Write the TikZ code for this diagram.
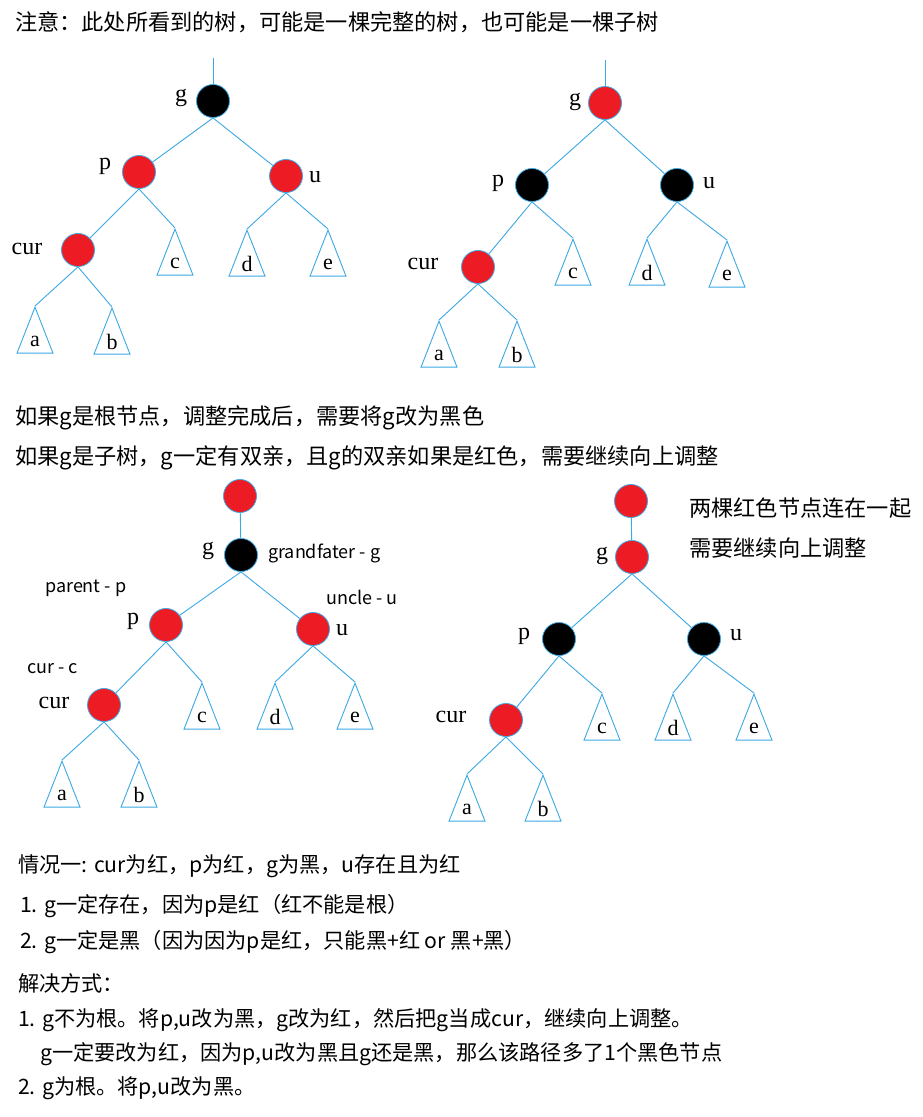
\documentclass[tikz,border=0pt]{standalone}
\usepackage{fontspec}
\setmainfont{Liberation Serif}
\newfontfamily\cjk{Noto Sans CJK SC}
\usetikzlibrary{shapes.geometric}
\definecolor{treeblue}{RGB}{60,168,228}
\definecolor{nodered}{RGB}{237,28,36}

\begin{document}
\begin{tikzpicture}[
    x=1pt, y=-1pt,
    rnode/.style={circle, draw=treeblue, line width=0.8pt, fill=nodered, minimum size=33pt, inner sep=0pt},
    bnode/.style={rnode, fill=black},
    tri/.style={isosceles triangle, isosceles triangle stretches, shape border rotate=90, draw=treeblue, line width=0.9pt, minimum width=36pt, minimum height=46pt, inner sep=0pt, anchor=apex, font=\fontsize{22}{22}\selectfont},
    edge/.style={treeblue, line width=0.9pt},
    lbl/.style={font=\fontsize{24}{24}\selectfont, inner sep=0pt},
    head/.style={font=\cjk\fontsize{22.2}{26}\selectfont, anchor=west, inner sep=0pt},
    note/.style={font=\cjk\fontsize{21.2}{25}\selectfont, anchor=west, inner sep=0pt},
    tag/.style={font=\cjk\fontsize{18}{20}\selectfont, anchor=west, inner sep=0pt}
]
\fill[white] (0,0) rectangle (922,1117);
\useasboundingbox (0,0) rectangle (922,1117);

\node[head] (n0) at (15,22) {注意：此处所看到的树，可能是一棵完整的树，也可能是一棵子树};

% tree 1: before
\coordinate (topA) at (213,58);
\node[bnode] (gA) at (213,101) {};
\node[rnode] (pA) at (139,172) {};
\node[rnode] (uA) at (286,176) {};
\node[rnode] (curA) at (78,250) {};
\node[tri] (cA) at (175,228) {c};
\node[tri] (dA) at (247,229) {d};
\node[tri] (eA) at (328,229) {e};
\node[tri] (aA) at (35,306) {a};
\node[tri] (bA) at (112,307) {b};
\node[lbl] (lgA) at (181,98) {g};
\node[lbl] (lpA) at (105,166) {p};
\node[lbl] (luA) at (315,177) {u};
\node[lbl] (lcurA) at (27,249) {cur};
\draw[edge] (topA) -- (gA);
\draw[edge] (gA.south) -- (pA);
\draw[edge] (gA.south) -- (uA);
\draw[edge] (pA.south) -- (curA);
\draw[edge] (pA.south) -- (cA.apex);
\draw[edge] (uA.south) -- (dA.apex);
\draw[edge] (uA.south) -- (eA.apex);
\draw[edge] (curA.south) -- (aA.apex);
\draw[edge] (curA.south) -- (bA.apex);

% tree 2: after
\coordinate (topB) at (605,60);
\node[rnode] (gB) at (605,103) {};
\node[bnode] (pB) at (532,185) {};
\node[bnode] (uB) at (677,185) {};
\node[rnode] (curB) at (478,267) {};
\node[tri] (cB) at (573,238) {c};
\node[tri] (dB) at (647,238) {d};
\node[tri] (eB) at (727,240) {e};
\node[tri] (aB) at (439,320) {a};
\node[tri] (bB) at (517,320) {b};
\node[lbl] (lgB) at (575,102) {g};
\node[lbl] (lpB) at (498,183) {p};
\node[lbl] (luB) at (709,183) {u};
\node[lbl] (lcurB) at (423,264) {cur};
\draw[edge] (topB) -- (gB);
\draw[edge] (gB.south) -- (pB);
\draw[edge] (gB.south) -- (uB);
\draw[edge] (pB.south) -- (curB);
\draw[edge] (pB.south) -- (cB.apex);
\draw[edge] (uB.south) -- (dB.apex);
\draw[edge] (uB.south) -- (eB.apex);
\draw[edge] (curB.south) -- (aB.apex);
\draw[edge] (curB.south) -- (bB.apex);

\node[head] (n1) at (15,418) {如果g是根节点，调整完成后，需要将g改为黑色};
\node[head] (n2) at (15,458) {如果g是子树，g一定有双亲，且g的双亲如果是红色，需要继续向上调整};

% tree 3: subtree before
\node[rnode] (rC) at (240,496) {};
\node[bnode] (gC) at (241,555) {};
\node[rnode] (pC) at (166,625) {};
\node[rnode] (uC) at (313,629) {};
\node[rnode] (curC) at (104,705) {};
\node[tri] (cC) at (202,682) {c};
\node[tri] (dC) at (275,682) {d};
\node[tri] (eC) at (355,682) {e};
\node[tri] (aC) at (62,760) {a};
\node[tri] (bC) at (139,760) {b};
\node[lbl] (lgC) at (208,551) {g};
\node[lbl] (lpC) at (133,621) {p};
\node[lbl] (luC) at (342,630) {u};
\node[lbl] (lcurC) at (54,703) {cur};
\node[tag] (tg) at (268,553) {grandfater - g};
\node[tag] (tp) at (45,588) {parent - p};
\node[tag] (tu) at (326,597) {uncle - u};
\node[tag] (tc) at (27,669) {cur - c};
\draw[edge] (rC) -- (gC);
\draw[edge] (gC.south) -- (pC);
\draw[edge] (gC.south) -- (uC);
\draw[edge] (pC.south) -- (curC);
\draw[edge] (pC.south) -- (cC.apex);
\draw[edge] (uC.south) -- (dC.apex);
\draw[edge] (uC.south) -- (eC.apex);
\draw[edge] (curC.south) -- (aC.apex);
\draw[edge] (curC.south) -- (bC.apex);

% tree 4: subtree after
\node[rnode] (rD) at (631,501) {};
\node[rnode] (gD) at (632,557) {};
\node[bnode] (pD) at (559,639) {};
\node[bnode] (uD) at (704,639) {};
\node[rnode] (curD) at (506,720) {};
\node[tri] (cD) at (602,693) {c};
\node[tri] (dD) at (673,693) {d};
\node[tri] (eD) at (754,693) {e};
\node[tri] (aD) at (467,774) {a};
\node[tri] (bD) at (543,774) {b};
\node[lbl] (lgD) at (602,556) {g};
\node[lbl] (lpD) at (524,636) {p};
\node[lbl] (luD) at (736,635) {u};
\node[lbl] (lcurD) at (451,717) {cur};
\node[head] (n3) at (689,508) {两棵红色节点连在一起};
\node[head] (n4) at (689,548) {需要继续向上调整};
\draw[edge] (rD) -- (gD);
\draw[edge] (gD.south) -- (pD);
\draw[edge] (gD.south) -- (uD);
\draw[edge] (pD.south) -- (curD);
\draw[edge] (pD.south) -- (cD.apex);
\draw[edge] (uD.south) -- (dD.apex);
\draw[edge] (uD.south) -- (eD.apex);
\draw[edge] (curD.south) -- (aD.apex);
\draw[edge] (curD.south) -- (bD.apex);

% case notes
\node[note] (n5) at (18,866) {情况一: cur为红，p为红，g为黑，u存在且为红};
\node[note] (n6) at (20,906) {1. g一定存在，因为p是红（红不能是根）};
\node[note] (n7) at (20,942) {2. g一定是黑（因为因为p是红，只能黑+红 or 黑+黑）};
\node[note] (n8) at (18,983) {解决方式：};
\node[note] (n9) at (18,1020) {1. g不为根。将p,u改为黑，g改为红，然后把g当成cur，继续向上调整。};
\node[note] (n10) at (40,1054) {g一定要改为红，因为p,u改为黑且g还是黑，那么该路径多了1个黑色节点};
\node[note] (n11) at (18,1088) {2. g为根。将p,u改为黑。};
\end{tikzpicture}
\end{document}
